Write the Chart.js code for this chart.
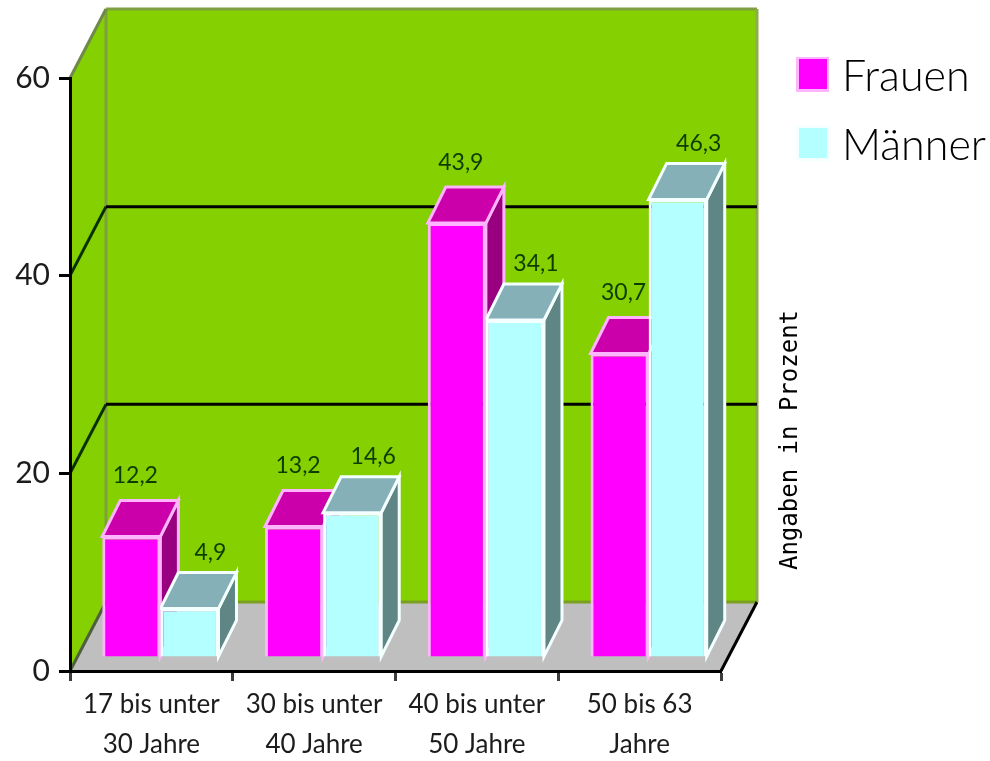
<!DOCTYPE html>
<html><head><meta charset="utf-8">
<style>html,body{margin:0;padding:0;background:#fff}canvas{display:block;filter:blur(0.6px)}</style>
<script src="https://cdn.jsdelivr.net/npm/chart.js@4"></script>
</head><body><canvas id="c" width="990" height="761"></canvas>
<script>
const categories = [["17 bis unter","30 Jahre"],["30 bis unter","40 Jahre"],["40 bis unter","50 Jahre"],["50 bis 63","Jahre"]];
const frauen = [12.2, 13.2, 43.9, 30.7];
const maenner = [4.9, 14.6, 34.1, 46.3];
const seriesNames = ["Frauen", "Männer"];
const axisTitle = "Angaben in Prozent";
const yMax = 60, yStep = 20;

const WALL = {dx:36, dy:69}, BAR = {sx:9, sy:14, dx:18, dy:36};
const FACE = [
  {front:"#ff00ff", edge:"#ffb4ff", top:"#cb00ab", side:"#99007f", lx:4, ly:25},
  {front:"#b4ffff", edge:"#f4ffff", top:"#86b0b8", side:"#5f8585", lx:21, ly:20}
];
const poly=(ctx,pts,fill,stroke,w)=>{ctx.beginPath();pts.forEach((p,i)=>i?ctx.lineTo(p[0],p[1]):ctx.moveTo(p[0],p[1]));ctx.closePath();
  if(fill){ctx.fillStyle=fill;ctx.fill();} if(stroke){ctx.strokeStyle=stroke;ctx.lineWidth=w||2;ctx.stroke();}};
const line=(ctx,a,b,c,w)=>{ctx.beginPath();ctx.moveTo(a[0],a[1]);ctx.lineTo(b[0],b[1]);ctx.strokeStyle=c;ctx.lineWidth=w;ctx.stroke();};

const scene = {
  id:"scene",
  beforeDraw(chart){
    const {ctx,chartArea:a,scales:{y}}=chart, d=WALL;
    ctx.save();
    poly(ctx,[[a.left,a.top],[a.left+d.dx,a.top-d.dy],[a.left+d.dx,a.bottom-d.dy],[a.left,a.bottom]],"#84d000");
    poly(ctx,[[a.left+d.dx,a.top-d.dy],[a.right+d.dx,a.top-d.dy],[a.right+d.dx,a.bottom-d.dy],[a.left+d.dx,a.bottom-d.dy]],"#84d000");
    poly(ctx,[[a.left,a.bottom],[a.right,a.bottom],[a.right+d.dx,a.bottom-d.dy],[a.left+d.dx,a.bottom-d.dy]],"#bfbfbf");
    line(ctx,[a.left+d.dx,a.top-d.dy],[a.left+d.dx,a.bottom-d.dy],"#7f9f40",3);
    line(ctx,[a.left+d.dx,a.top-d.dy],[a.right+d.dx,a.top-d.dy],"#7f9f40",3);
    line(ctx,[a.right+d.dx,a.top-d.dy],[a.right+d.dx,a.bottom-d.dy],"#8fab50",3);
    line(ctx,[a.left+d.dx,a.bottom-d.dy],[a.right+d.dx,a.bottom-d.dy],"#7a9f20",3);
    line(ctx,[a.left,a.top],[a.left+d.dx,a.top-d.dy],"#70884c",3);
    line(ctx,[a.left,a.bottom],[a.left+d.dx,a.bottom-d.dy],"#50603c",3);
    line(ctx,[a.right,a.bottom],[a.right+d.dx,a.bottom-d.dy],"#000",3);
    y.ticks.forEach(t=>{
      if(t.value<=0||t.value>=yMax) return;
      const py=y.getPixelForValue(t.value);
      line(ctx,[a.left,py],[a.left+d.dx,py-d.dy],"#0a3000",3);
      line(ctx,[a.left+d.dx,py-d.dy],[a.right+d.dx,py-d.dy],"#000",3);
    });
    ctx.restore();
  },
  beforeDatasetsDraw(chart){
    const {ctx}=chart;
    ctx.save();
    ctx.translate(BAR.sx,-BAR.sy);
    [0,1].forEach(i=>{
      const f=FACE[i];
      chart.getDatasetMeta(i).data.forEach(el=>{
        const p=el.getProps(["x","y","base","width"],true),l=p.x-p.width/2,r=p.x+p.width/2,dx=BAR.dx,dy=BAR.dy;
        poly(ctx,[[r,p.y],[r+dx,p.y-dy],[r+dx,p.base-dy],[r,p.base]],f.side,f.edge,3);
        poly(ctx,[[l,p.y],[l+dx,p.y-dy],[r+dx,p.y-dy],[r,p.y]],f.top,f.edge,3);
      });
    });
  },
  afterDatasetsDraw(chart){
    const {ctx}=chart;
    ctx.restore();
    ctx.save();
    ctx.font="23px Lato";ctx.fillStyle="#0e3c00";ctx.textAlign="center";ctx.textBaseline="middle";
    [0,1].forEach(i=>{
      const f=FACE[i];
      chart.getDatasetMeta(i).data.forEach((el,j)=>{
        const p=el.getProps(["x","y"],true),v=chart.data.datasets[i].data[j];
        ctx.fillText(String(v).replace(".",","),p.x+BAR.sx+f.lx,p.y-BAR.sy-BAR.dy-f.ly);
      });
    });
    ctx.restore();
  },
  afterDraw(chart){
    const {ctx,chartArea:a}=chart;
    ctx.save();
    chart.data.datasets.forEach((ds,i)=>{
      const top=a.top-20+i*69;
      ctx.fillStyle=FACE[i].edge;ctx.fillRect(a.right+75,top-1,33,35);
      ctx.fillStyle=ds.backgroundColor;ctx.fillRect(a.right+78,top+1,28,30);
      ctx.fillStyle="#000";ctx.font="300 43px Lato";ctx.textAlign="left";ctx.textBaseline="alphabetic";
      ctx.fillText(ds.label,a.right+121,top+33);
    });
    ctx.translate(791,440);ctx.rotate(-Math.PI/2);
    ctx.font="24px 'DejaVu Sans Mono'";ctx.fillStyle="#000";ctx.textAlign="center";ctx.textBaseline="middle";
    ctx.fillText(axisTitle,0,0);
    ctx.restore();
  }
};

new Chart(document.getElementById("c"),{
  type:"bar",
  data:{labels:categories,datasets:[
    {label:seriesNames[0],data:frauen,backgroundColor:FACE[0].front,borderColor:FACE[0].edge,borderWidth:3,clip:false},
    {label:seriesNames[1],data:maenner,backgroundColor:FACE[1].front,borderColor:FACE[1].edge,borderWidth:3,clip:false}
  ]},
  options:{
    responsive:false,animation:false,
    layout:{padding:{top:78,right:269,left:0,bottom:0}},
    datasets:{bar:{categoryPercentage:0.714,barPercentage:1}},
    plugins:{legend:{display:false},tooltip:{enabled:false},title:{display:false}},
    scales:{
      x:{
        grid:{drawOnChartArea:false,tickColor:"#3c3c3c",tickWidth:3,tickLength:10},
        border:{color:"#000",width:3},
        ticks:{color:"#1c1c1c",font:{family:"Lato",size:26,weight:400,lineHeight:1.54},padding:4,maxRotation:0,autoSkip:false},
        afterFit(s){s.height=90;}
      },
      y:{
        min:0,max:yMax,
        grid:{drawOnChartArea:false,tickColor:"#000",tickWidth:3,tickLength:11},
        border:{color:"#000",width:3},
        ticks:{stepSize:yStep,color:"#1c1c1c",font:{family:"Lato",size:30,weight:400},padding:9},
        afterFit(s){s.width=70;}
      }
    }
  },
  plugins:[scene]
});
</script></body></html>
